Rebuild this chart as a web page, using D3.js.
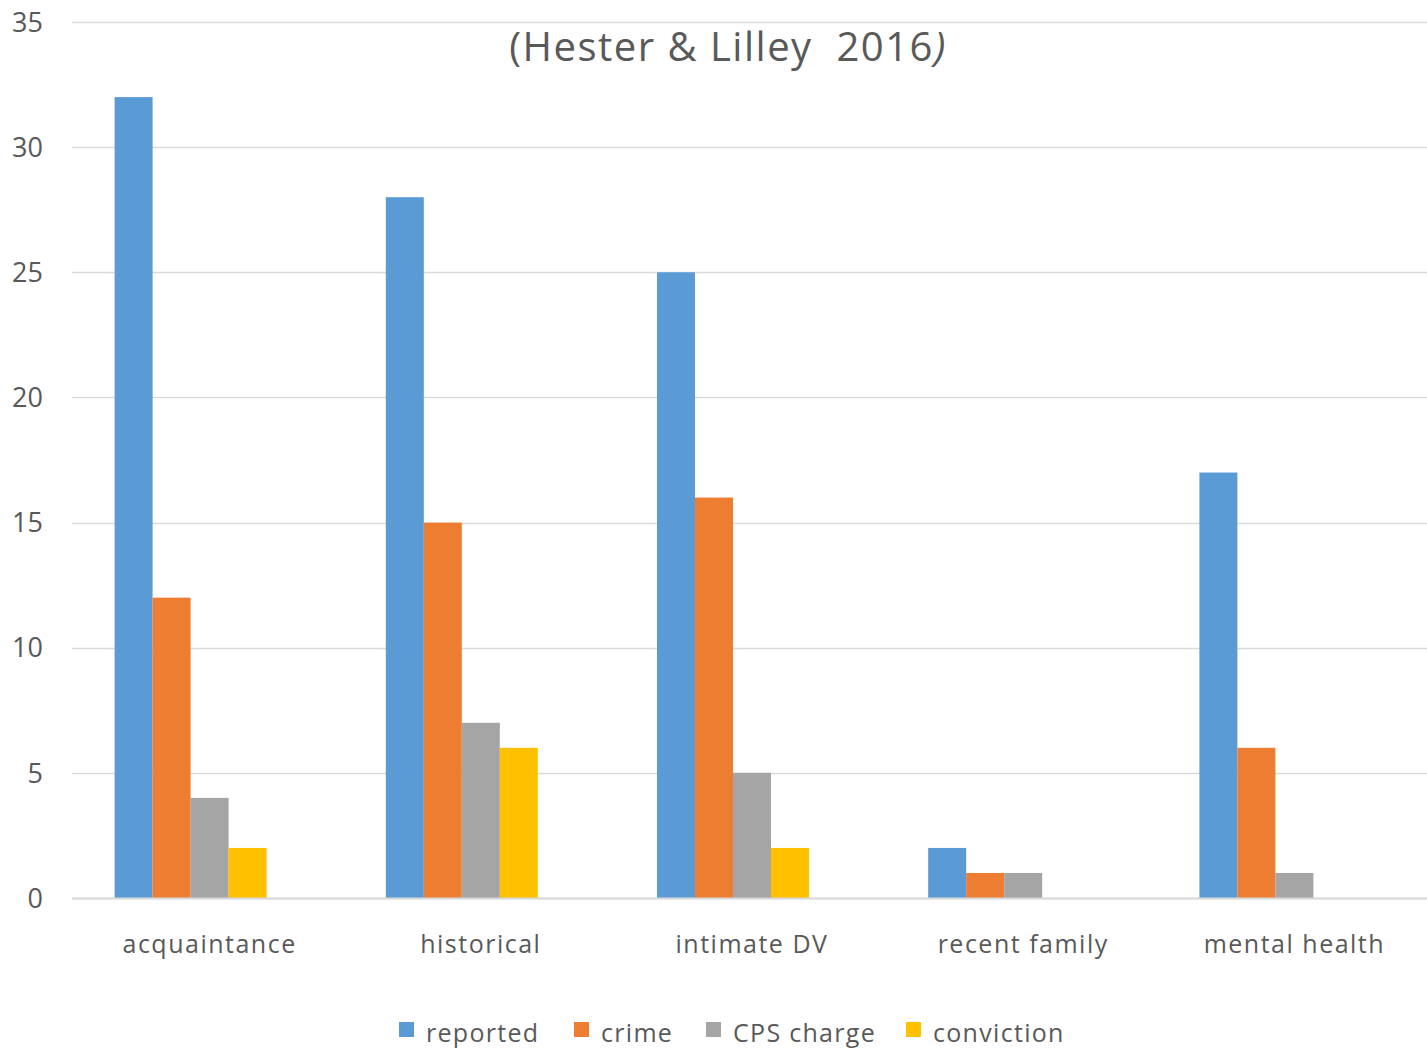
<!DOCTYPE html>
<html><head><meta charset="utf-8">
<script src="https://cdn.jsdelivr.net/npm/d3@7"></script>
<style>body{margin:0;background:#fff;} svg{display:block;}</style>
</head><body>
<svg id="chart" width="1427" height="1050"></svg>
<script>
const categories = ["acquaintance", "historical", "intimate DV", "recent family", "mental health"];
const seriesNames = ["reported", "crime", "CPS charge", "conviction"];
const seriesColors = ["#5b9bd5", "#ed7d31", "#a5a5a5", "#ffc000"];
const reported   = [32, 28, 25, 2, 17];
const crime      = [12, 15, 16, 1, 6];
const cpsCharge  = [4, 7, 5, 1, 1];
const conviction = [2, 6, 2, 0, 0];
const yTicks = [0, 5, 10, 15, 20, 25, 30, 35];
const titleLine2 = "(Hester & Lilley  2016";

const seriesValues = [reported, crime, cpsCharge, conviction];
const FONT = "'Open Sans', 'Noto Sans', sans-serif";
const TXT = "#595959";

const svg = d3.select("#chart");
const plotL = 72, plotR = 1427, plotT = 22, plotB = 898;

const y = d3.scaleLinear().domain([0, 35]).range([plotB, plotT]);
const x0 = d3.scaleBand().domain(categories).range([74, 1430]).paddingInner(0.2994).paddingOuter(0.1497);
// 5 slots per category (last slot empty as in the source chart)
const x1 = d3.scaleBand().domain(d3.range(5)).range([0, x0.bandwidth()]);

// gridlines
svg.append("g").selectAll("line").data(yTicks).join("line")
  .attr("x1", plotL).attr("x2", plotR)
  .attr("y1", d => Math.round(y(d)) + 0.5).attr("y2", d => Math.round(y(d)) + 0.5)
  .attr("stroke", "#d9d9d9").attr("stroke-width", 1.5);

// y tick labels
svg.append("g").selectAll("text").data(yTicks).join("text")
  .attr("x", 43).attr("y", d => y(d)).attr("dy", "0.36em")
  .attr("text-anchor", "end").attr("font-family", FONT).attr("font-size", 27)
  .attr("fill", TXT).text(d => d);

// bars
const groups = svg.append("g").selectAll("g").data(categories).join("g")
  .attr("transform", d => `translate(${x0(d)},0)`);
groups.selectAll("rect").data((c, ci) => seriesValues.map((vals, si) => ({si, v: vals[ci]})))
  .join("rect")
  .attr("x", d => x1(d.si)).attr("width", x1.bandwidth())
  .attr("y", d => y(d.v)).attr("height", d => y(0) - y(d.v))
  .attr("fill", d => seriesColors[d.si]);

// x axis line
svg.append("line").attr("x1", plotL).attr("x2", plotR)
  .attr("y1", plotB + 0.5).attr("y2", plotB + 0.5)
  .attr("stroke", "#d9d9d9").attr("stroke-width", 2);

// category labels
svg.append("g").selectAll("text").data(categories).join("text")
  .attr("x", d => x0(d) + x0.bandwidth() / 2).attr("y", 953)
  .attr("text-anchor", "middle").attr("font-family", FONT).attr("font-size", 25)
  .attr("letter-spacing", 1.5)
  .attr("fill", TXT).text(d => d);

// title (second line; first line is cut off in the source)
const t = svg.append("text").attr("x", 728).attr("y", 61).attr("text-anchor", "middle")
  .attr("font-family", FONT).attr("font-size", 40).attr("fill", TXT)
  .attr("letter-spacing", 1.5).style("white-space", "pre");
t.append("tspan").text(titleLine2);
t.append("tspan").attr("font-style", "italic").text(")");

// legend
const legendX = [399, 574, 706, 906];
const lg = svg.append("g").selectAll("g").data(seriesNames).join("g")
  .attr("transform", (d, i) => `translate(${legendX[i]},1022)`);
lg.append("rect").attr("width", 15).attr("height", 15).attr("fill", (d, i) => seriesColors[i]);
lg.append("text").attr("x", 27).attr("y", 20).attr("font-family", FONT).attr("font-size", 25)
  .attr("letter-spacing", 1.3)
  .attr("fill", TXT).text(d => d);
</script>
</body></html>
